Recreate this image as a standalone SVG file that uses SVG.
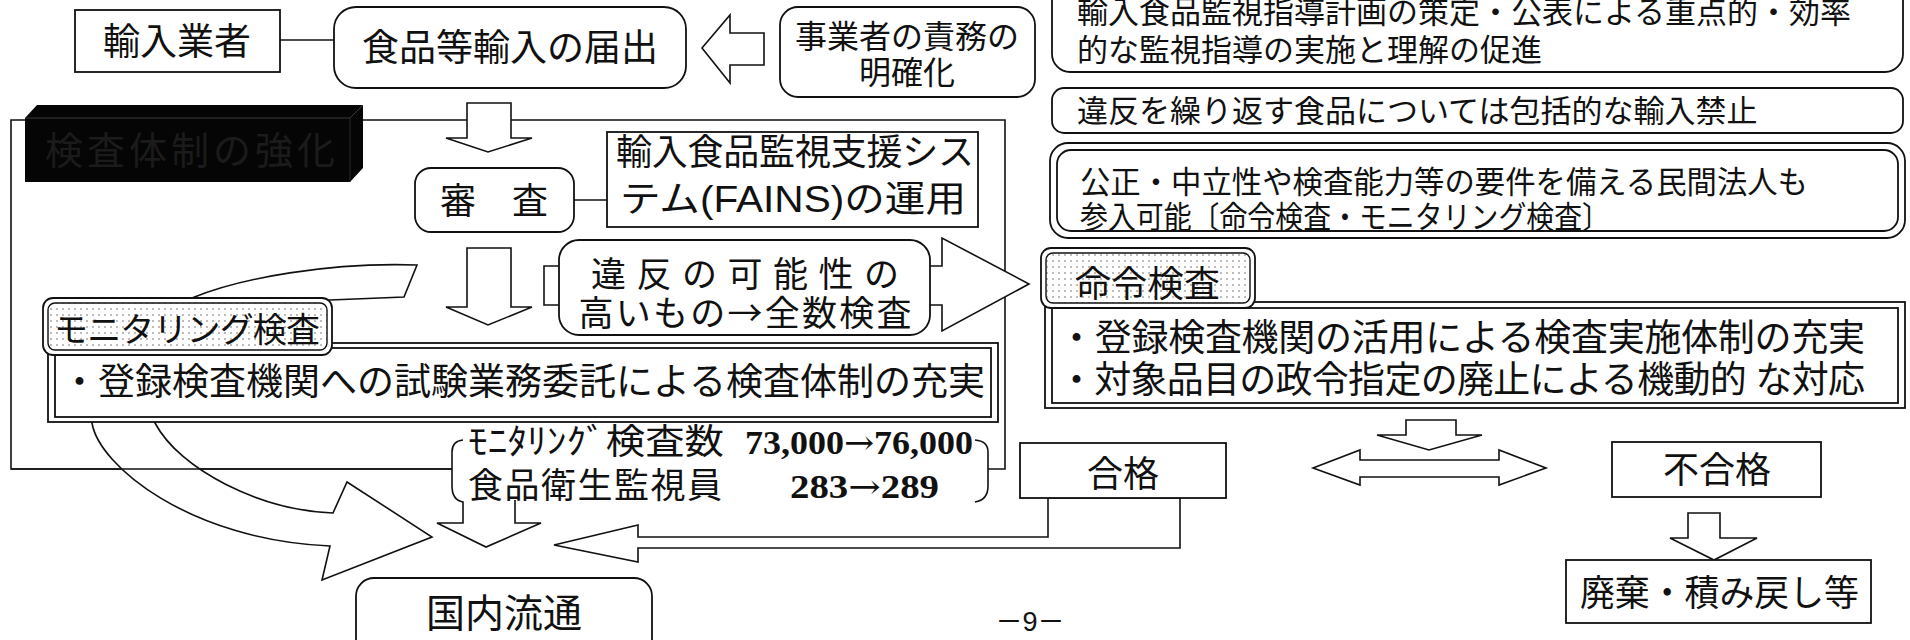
<svg xmlns="http://www.w3.org/2000/svg" width="1910" height="640" viewBox="0 0 1910 640">
<defs>
<pattern id="dots" width="6" height="6" patternUnits="userSpaceOnUse"><rect width="6" height="6" fill="#fff"/><circle cx="3" cy="3" r="0.8" fill="#666"/></pattern>
<style>
.b{fill:#fff;stroke:#111;stroke-width:1.8}
.ln{fill:none;stroke:#111;stroke-width:1.6}
.ar{fill:#fff;stroke:#111;stroke-width:1.6;stroke-linejoin:miter}
.t{font-family:"Liberation Sans","Noto Sans CJK JP",sans-serif;fill:#111}
.j{font-family:"Noto Sans CJK JP",sans-serif;fill:#111}
.c{text-anchor:middle}
.num{font-family:"Liberation Serif","Noto Sans CJK JP",serif;font-weight:bold;fill:#111}
.arw{font-family:"DejaVu Serif",serif;font-weight:normal}
</style>
</defs>
<rect width="1910" height="640" fill="#fff"/>

<g id="connectors">
<path class="ln" d="M363,120 H1005 V469 H988 M452,469 H11 V120 H25"/>
<path class="ar" d="M417,265 C330,262 240,278 192,298 C120,330 85,380 92,423 C99,466 190,540 330,546 L322,580 L432,537 L347,482 L333,513 C260,510 180,470 155,423 C120,370 200,305 330,300 L404,297 Z"/>
<path class="ln" d="M11,469 H452"/>
<line class="ln" x1="280" y1="40" x2="334" y2="40"/>
<line class="ln" x1="574" y1="200" x2="607" y2="200"/>
<polygon class="ar" points="702,48 730,15 730,33 764,33 764,65 730,65 730,83"/>
<polygon class="ar" points="467,103 511,103 511,138 532,138 488,152 446,138 467,138"/>
<polygon class="ar" points="467,248 511,248 511,307 532,307 488,325 446,307 467,307"/>
<polygon class="ar" points="544,266 942,266 942,238 1029,284 942,331 942,305 544,305"/>
<path class="ln" d="M463,440 Q452,441 452,452 V486 Q452,500 463,502 V523 H437 L486,547 L541,523 H515 V500"/>
<path class="ln" d="M975,440 Q988,441 988,452 V486 Q988,500 975,502"/>
<polygon class="ar" points="1048,498 1048,537 638,537 638,525 554,545 638,562 638,548 1180,548 1180,498"/>
<polygon class="ar" points="1406,420 1456,420 1456,435 1482,435 1429,450 1377,435 1406,435"/>
<polygon class="ar" points="1313,468 1360,450 1360,460 1499,460 1499,450 1546,468 1499,485 1499,477 1360,477 1360,485"/>
<polygon class="ar" points="1688,513 1720,513 1720,538 1757,538 1714,560 1670,538 1688,538"/>
</g>

<g id="n-yunyu">
<rect class="b" x="75" y="10" width="205" height="62"/>
<text class="t c" x="177" y="55" font-size="37">輸入業者</text>
</g>
<g id="n-todokede">
<rect class="b" x="334" y="7" width="352" height="81" rx="22"/>
<text class="t c" x="510" y="61" font-size="37">食品等輸入の届出</text>
</g>
<g id="n-jigyosha">
<rect class="b" x="780" y="7" width="255" height="90" rx="18"/>
<text class="t c" x="907" y="48" font-size="32">事業者の責務の</text>
<text class="t c" x="907" y="84" font-size="32">明確化</text>
</g>
<g id="n-keikaku">
<rect class="b" x="1052" y="-20" width="851" height="92" rx="18"/>
<text class="t" x="1077" y="23" font-size="31">輸入食品監視指導計画の策定・公表による重点的・効率</text>
<text class="t" x="1077" y="61" font-size="31">的な監視指導の実施と理解の促進</text>
</g>
<g id="n-kinshi">
<rect class="b" x="1052" y="88" width="851" height="45" rx="12"/>
<text class="t" x="1077" y="122" font-size="31">違反を繰り返す食品については包括的な輸入禁止</text>
</g>
<g id="n-minkan">
<rect class="b" x="1050" y="143" width="855" height="95" rx="18"/>
<rect class="b" x="1057" y="150" width="841" height="81" rx="14"/>
<text class="t" x="1080" y="193" font-size="31" textLength="728" lengthAdjust="spacingAndGlyphs">公正・中立性や検査能力等の要件を備える民間法人も</text>
<text class="t" x="1080" y="228" font-size="31" textLength="530" lengthAdjust="spacingAndGlyphs">参入可能〔命令検査・モニタリング検査〕</text>
</g>
<g id="n-kyoka">
<polygon points="25,118 37,105 363,105 363,168 350,182 25,182" fill="#050505"/>
<polyline points="25,118 350,118 363,105" fill="none" stroke="#3a3a3a" stroke-width="1"/>
<line x1="350" y1="118" x2="350" y2="182" stroke="#2a2a2a" stroke-width="1"/>
<text class="j" x="45" y="164" font-size="38" style="fill:#1b1b1b" textLength="290">検査体制の強化</text>
</g>
<g id="n-shinsa">
<rect class="b" x="415" y="168" width="159" height="64" rx="16"/>
<text class="t c" x="494" y="214" font-size="36">審　査</text>
</g>
<g id="n-fains">
<rect class="b" x="607" y="132" width="371" height="95"/>
<text class="t" x="616" y="165" font-size="36" textLength="358">輸入食品監視支援シス</text>
<text class="t" x="620" y="212" font-size="36" textLength="346" lengthAdjust="spacingAndGlyphs">テム(FAINS)の運用</text>
</g>
<g id="n-ihan">
<rect class="b" x="559" y="240" width="371" height="95" rx="20"/>
<text class="j c" x="745" y="287" font-size="35" textLength="308">違反の可能性の</text>
<text class="j c" x="745" y="326" font-size="35" textLength="333">高いもの→全数検査</text>
</g>
<g id="n-monitoring">
<rect class="b" x="48" y="343" width="950" height="79"/>
<rect class="b" x="55" y="348" width="936" height="69"/>
<text class="t" x="61" y="395" font-size="37" textLength="924">・登録検査機関への試験業務委託による検査体制の充実</text>
<rect class="b" x="43" y="298" width="289" height="57" rx="10"/>
<rect x="48" y="303" width="279" height="47" rx="7" fill="url(#dots)" stroke="#111" stroke-width="1.4"/>
<text class="t" x="54" y="342" font-size="34" textLength="266">モニタリング検査</text>
</g>
<g id="n-meirei">
<rect class="b" x="1045" y="302" width="860" height="106"/>
<rect class="b" x="1052" y="308" width="846" height="95"/>
<text class="t" x="1058" y="351" font-size="37" textLength="807">・登録検査機関の活用による検査実施体制の充実</text>
<text class="t" x="1058" y="393" font-size="37" textLength="807">・対象品目の政令指定の廃止による機動的 な対応</text>
<rect class="b" x="1041" y="248" width="214" height="60" rx="10"/>
<rect x="1046" y="253" width="204" height="50" rx="7" fill="url(#dots)" stroke="#111" stroke-width="1.4"/>
<text class="t" x="1075" y="297" font-size="36" textLength="145">命令検査</text>
</g>
<g id="n-stats">
<text class="t" x="468" y="454" font-size="35" textLength="256" lengthAdjust="spacingAndGlyphs">ﾓﾆﾀﾘﾝｸﾞ検査数</text>
<text class="num" x="745" y="454" font-size="33" textLength="228" lengthAdjust="spacingAndGlyphs">73,000<tspan class="arw">→</tspan>76,000</text>
<text class="t" x="468" y="498" font-size="35" textLength="254">食品衛生監視員</text>
<text class="num" x="790" y="498" font-size="33" textLength="149" lengthAdjust="spacingAndGlyphs">283<tspan class="arw">→</tspan>289</text>
</g>
<g id="n-gokaku">
<rect class="b" x="1020" y="443" width="206" height="55"/>
<text class="t c" x="1123" y="487" font-size="36">合格</text>
</g>
<g id="n-fugokaku">
<rect class="b" x="1612" y="442" width="209" height="55"/>
<text class="t c" x="1717" y="483" font-size="36">不合格</text>
</g>
<g id="n-haiki">
<rect class="b" x="1566" y="560" width="305" height="63"/>
<text class="t" x="1580" y="606" font-size="36" textLength="279" lengthAdjust="spacingAndGlyphs">廃棄・積み戻し等</text>
</g>
<g id="n-kokunai">
<rect class="b" x="356" y="578" width="296" height="80" rx="18"/>
<text class="t c" x="504" y="627" font-size="39">国内流通</text>
</g>
<text class="t c" x="1030" y="631" font-size="27">－9－</text>
</svg>
